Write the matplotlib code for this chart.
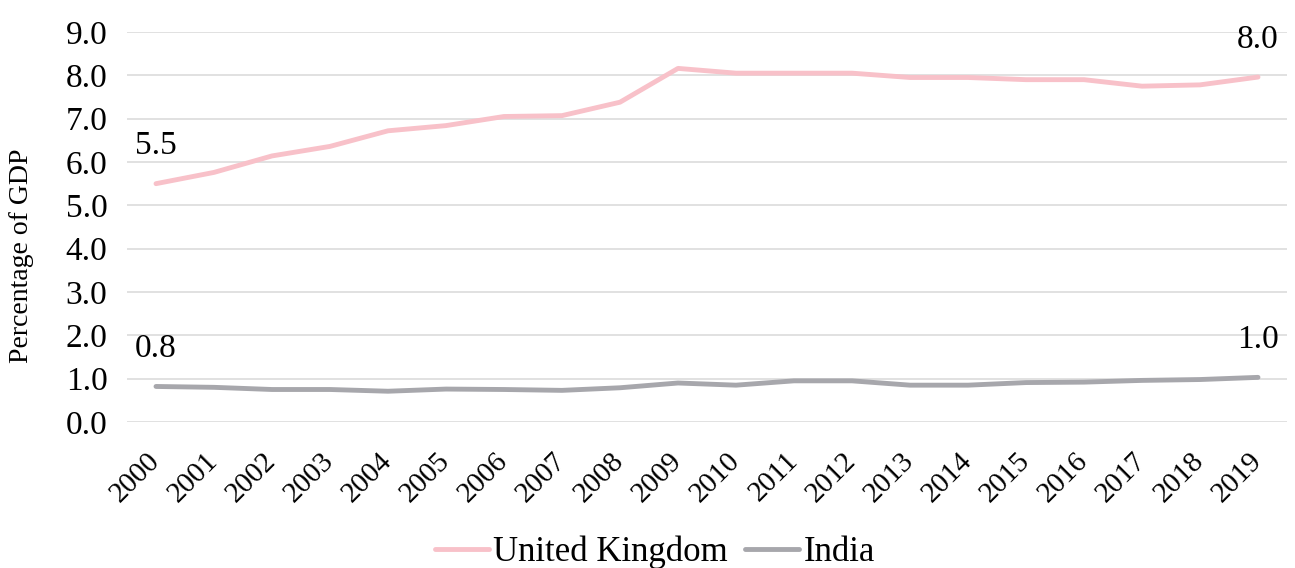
import matplotlib
matplotlib.use("Agg")
import matplotlib.pyplot as plt

years = [str(y) for y in range(2000, 2020)]
uk = [5.50, 5.76, 6.14, 6.36, 6.72, 6.84, 7.05, 7.07, 7.38, 8.16,
      8.05, 8.05, 8.05, 7.95, 7.95, 7.90, 7.90, 7.75, 7.78, 7.96]
india = [0.82, 0.80, 0.75, 0.75, 0.71, 0.76, 0.75, 0.73, 0.79, 0.90,
         0.85, 0.95, 0.95, 0.85, 0.85, 0.91, 0.92, 0.96, 0.98, 1.03]
series_names = ["United Kingdom", "India"]
yticks = [0, 1, 2, 3, 4, 5, 6, 7, 8, 9]

plt.rcParams['font.family'] = ['Liberation Serif', 'DejaVu Serif']

fig = plt.figure(figsize=(12.95, 5.68), dpi=100)
ax = fig.add_axes([127/1295, 146/568, 1160/1295, 390/568])

x = list(range(len(years)))
uk_color = '#F8C1C9'
in_color = '#A7A7AC'
ax.plot(x, uk, color=uk_color, lw=3.5, solid_capstyle='round', label=series_names[0], zorder=3)
ax.plot(x, india, color=in_color, lw=3.5, solid_capstyle='round', label=series_names[1], zorder=3)

ax.set_xlim(-0.5, len(years) - 0.5)
ax.set_ylim(0, 9)
ax.set_yticks(yticks)
ax.set_yticklabels([f"{v:.1f}" for v in yticks], fontsize=24)
ax.set_xticks(x)
ax.set_xticklabels(years, fontsize=21, rotation=45, ha='right', va='center', rotation_mode='anchor')
ax.tick_params(axis='both', length=0)
ax.tick_params(axis='y', pad=14)
ax.tick_params(axis='x', pad=25)
ax.grid(axis='y', color='#D9D9D9', lw=1.1, zorder=0)
for s in ax.spines.values():
    s.set_visible(False)

# end-point labels
for series in (uk, india):
    for i in (0, len(years) - 1):
        ax.annotate(f"{series[i]:.1f}", (x[i], series[i]), xytext=(0, 27),
                    textcoords='offset points', ha='center', va='center', fontsize=24)

fig.text(22/1295, 1 - 256/568, "Percentage of GDP", rotation=90, ha='center', va='center', fontsize=20)

leg = fig.legend(loc='center', bbox_to_anchor=(655/1295, 1 - 552/568), ncol=2, frameon=False,
                 fontsize=25, handlelength=1.55, handletextpad=0.12, columnspacing=0.5)

fig.savefig("out.png", dpi=100)
